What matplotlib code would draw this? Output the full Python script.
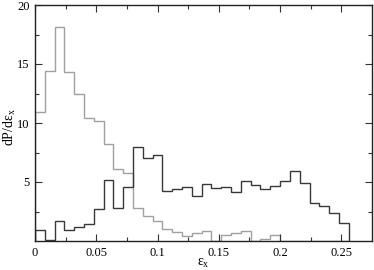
import numpy as np
import matplotlib
matplotlib.use("Agg")
import matplotlib.pyplot as plt

plt.rcParams['font.family'] = ['Liberation Serif', 'DejaVu Serif']
plt.rcParams['mathtext.fontset'] = 'custom'
plt.rcParams['mathtext.rm'] = 'Liberation Serif'
plt.rcParams['mathtext.it'] = 'Liberation Serif:italic'

bin_width = 0.008
n_bins = 32
edges = np.arange(n_bins + 1) * bin_width

light_values = [10.9, 14.4, 18.1, 14.3, 12.45, 10.45, 10.2, 8.25, 6.1, 5.8,
                2.8, 2.15, 1.7, 1.05, 0.74, 0.45, 0.7, 0.85, 0.0, 0.5,
                0.7, 0.85, 0.0, 0.17, 0.51, 0.0, 0.0, 0.0, 0.0, 0.0,
                0.0, 0.0]
dark_values = [0.93, 0.1, 1.72, 0.93, 1.21, 1.41, 2.71, 5.17, 2.77, 4.55,
               7.97, 7.03, 7.29, 4.25, 4.38, 4.6, 3.8, 4.8, 4.52, 4.6,
               4.12, 5.11, 4.75, 4.38, 4.66, 5.11, 5.96, 4.89, 3.25, 2.97,
               2.35, 1.5]

fig = plt.figure(figsize=(3.74, 2.70), dpi=100)
ax = fig.add_axes([35/374, 1-241/270, (372-35)/374, (241-5)/270])

ax.stairs(light_values, edges, color='#a0a0a0', linewidth=1.0, baseline=0)
ax.stairs(dark_values, edges, color='#383838', linewidth=1.0, baseline=0)

ax.set_xlim(0, 0.275)
ax.set_ylim(0, 20)
ax.set_xticks([0, 0.05, 0.1, 0.15, 0.2, 0.25])
ax.set_xticklabels(['0', '0.05', '0.1', '0.15', '0.2', '0.25'])
ax.set_xticks(np.arange(0.025, 0.275, 0.05), minor=True)
ax.set_yticks([5, 10, 15, 20])
ax.set_yticks([2.5, 7.5, 12.5, 17.5], minor=True)

ax.tick_params(which='both', direction='in', top=True, right=True,
               labelsize=9, width=0.8, color='#333333')
ax.tick_params(which='major', length=5, pad=4)
ax.tick_params(which='minor', length=3)
for s in ax.spines.values():
    s.set_linewidth(1.0)
    s.set_color('#222222')

ax.set_xlabel('$\\mathregular{ε_x}$', fontsize=10, labelpad=-1)
fig.text(10/374, 1-127/270, '$\\mathregular{dP/dε_x}$', fontsize=10,
         rotation=90, ha='center', va='center')

fig.savefig('out.png', dpi=100)
